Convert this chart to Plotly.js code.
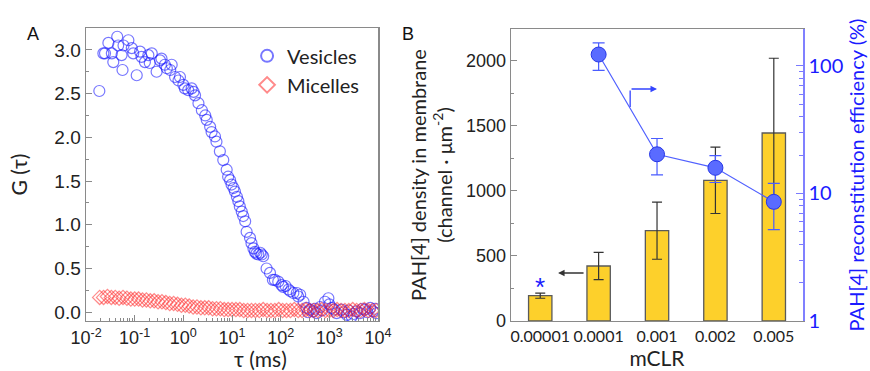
<!DOCTYPE html>
<html><head><meta charset="utf-8">
<script src="https://cdn.plot.ly/plotly-3.0.1.min.js"></script>
<style>html,body{margin:0;padding:0;background:#fff}#chart{width:870px;height:371px}</style>
</head><body><div id="chart"></div>
<script>
// ---------- Panel A data ----------
var vesTau = [0.01875,0.0227,0.0245,0.0288,0.0339,0.0363,0.0437,0.0457,0.0537,0.0562,0.0589,0.0741,0.0871,0.0933,0.110,0.129,0.138,0.162,0.191,0.204,0.224,0.282,0.331,0.355,0.417,0.457,0.537,0.575,0.676,0.794,0.851,1.0,1.072,1.259,1.479,1.622,1.738,2.042,2.399,2.818,3.020,3.548,3.802,4.467,4.786,5.623,6.607,7.762,8.318,9.120,9.772,10.72,11.48,12.59,13.49,14.45,15.85,16.98,18.62,19.95,23.44,25.12,27.54,29.51,31.62,34.67,38.02,40.74,43.65,51.29,60.26,69.18,75.86,89.13,104.7,112.2,125.9,144.5,158.5,182.0,213.8,229.1,251.2,295.1,338.8,363.1,398.1,467.7,501.2,549.5,645.7,707.9,812.8,955.0,1000,1122,1259,1413,1778,1995,2291,2512,2884,3162,3631,4266,4786,5370,6026,6918,7943,8710,9333];
var vesG = [2.53,2.96,2.96,3.08,2.96,2.86,3.15,3.05,2.94,2.77,3.05,3.11,3.02,2.96,2.71,2.98,2.92,2.86,2.94,2.85,2.96,2.75,2.88,2.90,2.83,2.79,2.77,2.83,2.69,2.65,2.69,2.60,2.56,2.54,2.56,2.52,2.48,2.39,2.31,2.25,2.20,2.12,2.06,2.01,1.95,1.84,1.74,1.63,1.55,1.51,1.46,1.42,1.38,1.32,1.27,1.21,1.15,1.10,1.04,0.92,0.85,0.79,0.73,0.69,0.67,0.66,0.68,0.66,0.64,0.50,0.45,0.37,0.37,0.35,0.31,0.29,0.30,0.26,0.24,0.22,0.22,0.18,0.20,0.12,0.05,0.00,0.03,0.01,0.04,-0.01,0.06,0.02,0.12,0.16,0.09,0.05,0.03,-0.01,0.03,0.00,-0.03,0.02,-0.05,-0.02,0.01,-0.01,0.04,0.03,0.00,0.05,0.01,0.04,-0.01];
var micTau = [0.01905,0.02291,0.02754,0.03311,0.03981,0.04786,0.05754,0.06918,0.08318,0.1,0.1202,0.1445,0.1738,0.2089,0.2512,0.3020,0.3631,0.4365,0.5248,0.6310,0.7586,0.912,1.096,1.318,1.585,1.905,2.291,2.754,3.311,3.981,4.786,5.754,6.918,8.318,10,12.02,14.45,17.38,20.89,25.12,30.20,36.31,43.65,52.48,63.10,75.86,91.20,109.6,131.8,158.5,190.5,229.1,275.4,331.1,398.1,478.6,575.4,691.8,831.8,1000,1202,1445,1738,2089,2512,3020,3631,4365,5248,6310,7586,9120];
var micG = [0.17,0.17,0.18,0.17,0.17,0.16,0.17,0.16,0.15,0.15,
            0.15,0.14,0.14,0.13,0.13,0.12,0.12,0.11,0.10,0.10,
            0.09,0.08,0.08,0.07,0.06,0.06,0.05,0.05,0.05,0.04,
            0.04,0.04,0.03,0.03,0.03,0.03,0.03,0.02,0.02,0.02,
            0.02,0.02,0.03,0.02,0.02,0.02,0.03,0.02,0.02,0.02,
            0.03,0.02,0.02,0.03,0.02,0.02,0.02,0.03,0.02,0.02,
            0.02,0.03,0.02,0.02,0.02,0.03,0.02,0.02,0.03,0.02,0.02,0.02];
var tauTickVals = [0.01,0.1,1,10,100,1000,10000];
var tauTickText = ['10<sup>-2</sup>','10<sup>-1</sup>','10<sup>0</sup>','10<sup>1</sup>','10<sup>2</sup>','10<sup>3</sup>','10<sup>4</sup>'];

// ---------- Panel B data ----------
var mclr = ['0.00001','0.0001','0.001','0.002','0.005'];
var density = [195,423,695,1082,1446];
var densityErr = [20,105,220,255,575];
var effCats = ['0.0001','0.001','0.002','0.005'];
var efficiency = [123,20.3,15.9,8.6];
var effErrPlus = [29,6.7,3.9,3.4];
var effErrMinus = [30.5,6.3,3.7,3.4];
var effTickVals = [1,10,100];
var effTickText = ['1','10','100'];

// minor tick positions (layout only)
var logMinor = [];
for (var e=-2;e<4;e++){for(var m=2;m<10;m++){logMinor.push(m*Math.pow(10,e));}}
var effMinor = [];
for (var e2=0;e2<3;e2++){for(var m2=2;m2<10;m2++){effMinor.push(m2*Math.pow(10,e2));}}

var FONT = 'Liberation Sans, Arial, sans-serif';
var CAL = 'Lato, Liberation Sans, sans-serif';
var AX = '#8a8a8a';
var BLUE = '#1a1aff';

var traces = [
  {type:'scatter', mode:'markers', name:'Vesicles', x:vesTau, y:vesG, xaxis:'x', yaxis:'y',
   marker:{symbol:'circle-open', size:11, color:'rgba(20,20,255,0.58)', line:{width:1.2}}},
  {type:'scatter', mode:'markers', name:'Micelles', x:micTau, y:micG, xaxis:'x', yaxis:'y',
   marker:{symbol:'diamond-open', size:11, color:'rgba(255,30,30,0.52)', line:{width:1.2}}},
  {type:'bar', x:mclr, y:density, xaxis:'x2', yaxis:'y2', width:0.4, showlegend:false,
   marker:{color:'#FDD02B', line:{color:'#5a5a5a', width:1.3}},
   error_y:{type:'data', array:densityErr, color:'#333', thickness:1.2, width:5}},
  {type:'scatter', mode:'lines+markers', x:effCats, y:efficiency, xaxis:'x2', yaxis:'y3', showlegend:false,
   line:{color:'#5060ff', width:1.2},
   marker:{symbol:'circle', size:15, color:'#5a6bff', line:{color:'#2636e6', width:1}},
   error_y:{type:'data', symmetric:false, array:effErrPlus, arrayminus:effErrMinus, color:'#4a5cff', thickness:1.2, width:6}}
];

var layout = {
  width:870, height:371, margin:{l:0,r:0,t:0,b:0},
  paper_bgcolor:'#fff', plot_bgcolor:'#fff',
  font:{family:FONT, color:'#222', size:15},
  showlegend:true,
  legend:{x:0.284, y:0.902, xanchor:'left', yanchor:'top', bgcolor:'rgba(0,0,0,0)',
          font:{family:CAL, size:20, color:'#222'}, itemsizing:'constant', tracegroupgap:0},
  xaxis:{domain:[0.0989,0.4345], anchor:'y', type:'log', range:[-2,4],
         tickmode:'array', tickvals:tauTickVals, ticktext:tauTickText,
         ticks:'inside', ticklen:6, tickcolor:AX, showline:true, linecolor:AX, linewidth:1.5, mirror:true,
         showgrid:false, zeroline:false, tickfont:{size:18, family:FONT},
         minor:{tickmode:'array', tickvals:logMinor, ticks:'inside', ticklen:3, tickcolor:AX, showgrid:false}},
  yaxis:{domain:[0.1348,0.9245], anchor:'x', range:[-0.1,3.25], dtick:0.5, tickformat:'.1f',
         ticks:'inside', ticklen:6, tickcolor:AX, showline:true, linecolor:AX, linewidth:1.5, mirror:true,
         showgrid:false, zeroline:false, tickfont:{size:19, family:FONT},
         minor:{dtick:0.25, ticks:'inside', ticklen:3, tickcolor:AX, showgrid:false},
         title:{text:'G (τ)', font:{size:21, family:CAL}, standoff:21}},
  xaxis2:{domain:[0.5874,0.9230], anchor:'y2', type:'category', range:[-0.5,4.5],
          ticks:'', showline:true, linecolor:AX, linewidth:1.5, mirror:true, showgrid:false,
          tickfont:{size:16, family:CAL},
          title:{text:'mCLR', font:{size:21, family:CAL}, standoff:2}},
  yaxis2:{domain:[0.1348,0.9218], anchor:'x2', range:[0,2246], dtick:500,
          ticks:'inside', ticklen:6, tickcolor:AX, showline:true, linecolor:AX, linewidth:1.5,
          showgrid:false, zeroline:false, tickfont:{size:18, family:FONT},
          minor:{dtick:250, ticks:'inside', ticklen:3, tickcolor:AX, showgrid:false},
          title:{text:'PAH[4] density in membrane<br>(channel · μm<sup>-2</sup>)', font:{size:20, family:CAL}, standoff:8}},
  yaxis3:{domain:[0.1348,0.9218], anchor:'x2', overlaying:'y2', side:'right', type:'log', range:[0,2.29],
          tickmode:'array', tickvals:effTickVals, ticktext:effTickText,
          ticks:'inside', ticklen:7, tickcolor:'#7a7aff', showline:true, linecolor:'#8080ff', linewidth:1.5,
          showgrid:false, zeroline:false, tickfont:{size:20, family:CAL, color:BLUE},
          minor:{tickmode:'array', tickvals:effMinor, ticks:'inside', ticklen:4, tickcolor:'#7a7aff', showgrid:false},
          title:{text:'PAH[4] reconstitution efficiency (%)', font:{size:20, family:CAL, color:BLUE}, standoff:7}},
  annotations:[
    {xref:'paper', yref:'paper', x:(86+378)/2/870, y:1-358/371, yanchor:'middle', text:'τ (ms)', showarrow:false, font:{size:21, family:CAL, color:'#222'}},
    {xref:'paper', yref:'paper', x:25/870, y:1-22/371, text:'A', showarrow:false, font:{size:18, family:FONT, color:'#111'}},
    {xref:'paper', yref:'paper', x:408/870, y:1-22/371, text:'B', showarrow:false, font:{size:18, family:FONT, color:'#111'}},
    {xref:'x2', yref:'y2', x:0, y:262, text:'*', showarrow:false, font:{size:26, family:FONT, color:BLUE}},
    {xref:'x2', yref:'y2', x:0.305, y:369, text:'', showarrow:true, ax:27, ay:0, axref:'pixel', ayref:'pixel',
     arrowhead:2, arrowsize:1, arrowwidth:1.3, arrowcolor:'#333'},
    {xref:'x2', yref:'y3', x:2.0, y:Math.log10(66), text:'', showarrow:true, ax:-27, ay:0,
     arrowhead:2, arrowsize:1, arrowwidth:1.3, arrowcolor:'#3344ff'},
    {xref:'x2', yref:'y3', x:1.54, y:Math.log10(47.7), text:'', showarrow:true, ax:0, ay:-18,
     arrowhead:0, arrowwidth:1.3, arrowcolor:'#3344ff'}
  ]
};

Plotly.newPlot('chart', traces, layout, {staticPlot:true, displayModeBar:false});
</script>
</body></html>
